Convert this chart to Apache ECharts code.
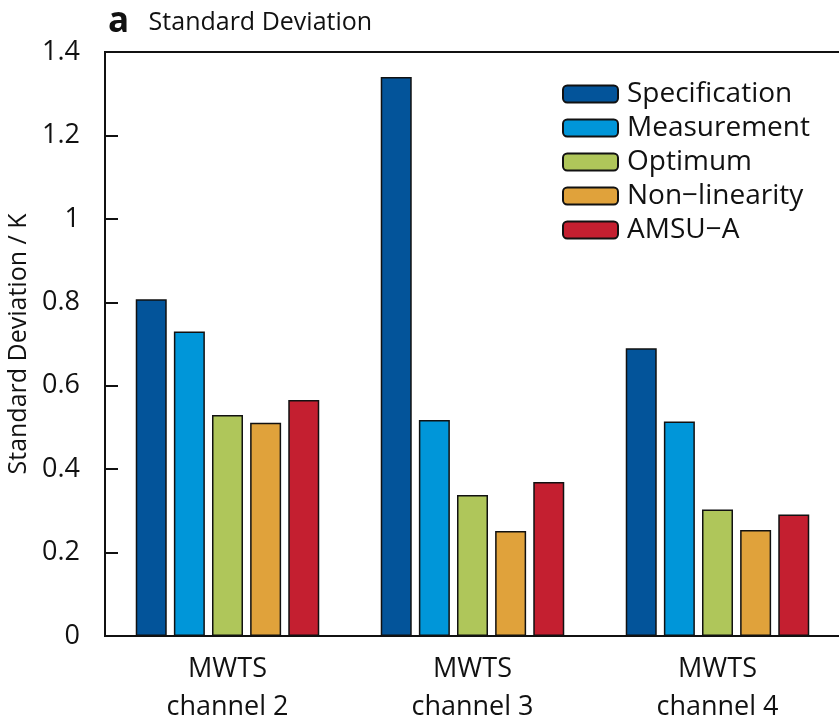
<!DOCTYPE html>
<html>
<head>
<meta charset="utf-8">
<script src="https://cdn.jsdelivr.net/npm/echarts@6/dist/echarts.min.js"></script>
<style>
  html, body { margin: 0; padding: 0; background: #fff; }
  #chart { width: 839px; height: 722px; }
</style>
</head>
<body>
<div id="chart"></div>
<script>
  // channels on the x axis
  const categories = ['MWTS\nchannel 2', 'MWTS\nchannel 3', 'MWTS\nchannel 4'];
  const seriesNames = ['Specification', 'Measurement', 'Optimum', 'Non\u2212linearity', 'AMSU\u2212A'];
  const specification = [0.807, 1.340, 0.690];
  const measurement = [0.730, 0.518, 0.514];
  const optimum = [0.530, 0.338, 0.303];
  const nonLinearity = [0.511, 0.252, 0.254];
  const amsuA = [0.566, 0.369, 0.291];
  const colors = ['#03549a', '#0096d9', '#afc65a', '#e0a23b', '#c41f30'];

  const font = 'Open Sans';
  const chart = echarts.init(document.getElementById('chart'));
  const values = [specification, measurement, optimum, nonLinearity, amsuA];

  let series = [];
  for (let i = 0; i < seriesNames.length; i++) {
    series.push({
      name: seriesNames[i],
      type: 'bar',
      data: values[i],
      barWidth: 31,
      barGap: '23%',
      itemStyle: {
        color: colors[i],
        borderColor: '#111',
        borderWidth: 1.5
      }
    });
  }

  const option = {
    animation: false,
    textStyle: { fontFamily: font },
    title: {
      text: '{a|a}   Standard Deviation',
      left: 103,
      top: 0,
      textStyle: {
        fontFamily: font,
        fontSize: 25,
        fontWeight: 'normal',
        color: '#111',
        rich: {
          a: { fontFamily: font, fontSize: 35, fontWeight: 'bold', color: '#111' }
        }
      }
    },
    legend: {
      data: seriesNames,
      orient: 'vertical',
      left: 557,
      top: 75,
      itemWidth: 55,
      itemHeight: 17,
      itemGap: 6,
      textStyle: { fontFamily: font, fontSize: 28, color: '#111', padding: [0, 0, 0, 4] }
    },
    grid: {
      left: 105,
      top: 52,
      width: 735,
      height: 584,
      outerBoundsMode: 'none',
      show: true,
      borderColor: '#111',
      borderWidth: 2
    },
    xAxis: {
      type: 'category',
      data: categories,
      axisTick: { show: false },
      axisLine: { lineStyle: { color: '#111', width: 2 } },
      axisLabel: {
        fontFamily: font,
        fontSize: 27,
        color: '#111',
        lineHeight: 38,
        margin: 14
      }
    },
    yAxis: {
      type: 'value',
      min: 0,
      max: 1.4,
      interval: 0.2,
      name: 'Standard Deviation / K',
      nameLocation: 'middle',
      nameGap: 71,
      nameTextStyle: { fontFamily: font, fontSize: 25, color: '#111' },
      splitLine: { show: false },
      axisLine: { show: true, lineStyle: { color: '#111', width: 2 } },
      axisTick: { show: true, inside: true, length: 13, lineStyle: { color: '#111', width: 2 } },
      axisLabel: {
        fontFamily: font,
        fontSize: 27,
        color: '#111',
        margin: 25,
        formatter: function (v) { return String(+v.toFixed(1)); }
      }
    },
    series: series
  };

  chart.setOption(option);
  window.addEventListener('resize', function () {
    chart.resize();
  });
</script>
</body>
</html>
